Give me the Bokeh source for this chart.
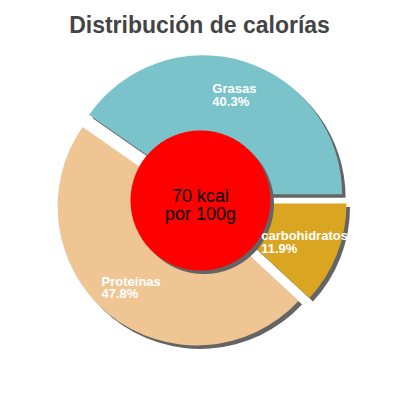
import numpy as np
from bokeh.plotting import figure
from bokeh.models import Range1d
from bokeh.core.properties import value
from bokeh.embed import file_html
from bokeh.resources import INLINE

# data
title = "Distribución de calorías"
labels = ["Grasas", "Proteínas", "carbohidratos"]
percents = [40.3, 47.8, 11.9]
colors = ["#7ac3cb", "#efc593", "#daa520"]
kcal_lines = ["70 kcal", "por 100g"]

FONT = value("Liberation Sans")

# geometry (picture pixels, y measured upwards: y = 400 - screen y)
cx, cy = 200.5, 199.5
R = 139
HOLE = 70
EXPLODE = 7
SHADOW_DX, SHADOW_DY = 3.5, -3.5
SHADOW_COLOR = "#646464"

frac = np.array(percents) / 100.0
ends = np.cumsum(frac) * 2 * np.pi
starts = ends - frac * 2 * np.pi
mids = (starts + ends) / 2
xs = cx + EXPLODE * np.cos(mids)
ys = cy + EXPLODE * np.sin(mids)

p = figure(width=384, height=384, x_range=Range1d(0, 384), y_range=Range1d(16, 400),
           output_backend="svg", toolbar_location=None, min_border=0)
p.axis.visible = False
p.grid.visible = False
p.outline_line_color = None
p.background_fill_color = "white"
p.border_fill_color = "white"

# shadows, then slices
p.wedge(x=xs + SHADOW_DX, y=ys + SHADOW_DY, radius=R, start_angle=starts, end_angle=ends,
        fill_color=SHADOW_COLOR, line_color=None)
p.wedge(x=xs, y=ys, radius=R, start_angle=starts, end_angle=ends,
        fill_color=colors, line_color=None)

# centre disc
p.circle(x=[200 + SHADOW_DX], y=[200 + SHADOW_DY], radius=HOLE,
         fill_color=SHADOW_COLOR, line_color=None)
p.circle(x=[200], y=[200], radius=HOLE, fill_color="#ff0000", line_color=None)

p.text(x=[200, 200], y=[200 + 4.3, 200 - 13], text=kcal_lines,
       text_align="center", text_baseline="alphabetic", text_font=FONT,
       text_font_size="18px", text_color="black")

# slice labels
lx = xs + 0.75 * R * np.cos(mids)
ly = ys + 0.75 * R * np.sin(mids)
texts = ["%s\n%.1f%%" % (l, v) for l, v in zip(labels, percents)]
p.text(x=lx, y=ly, text=texts, anchor="center", text_align="left",
       text_line_height=0.85, text_font=FONT, text_font_size="13px",
       text_font_style="bold", text_color="white")

# title
p.text(x=[199], y=[376], text=[title], text_align="center", text_baseline="alphabetic",
       text_font=FONT, text_font_size="23px", text_font_style="bold", text_color="#444444")

open("out.html", "w").write(file_html(p, INLINE))
